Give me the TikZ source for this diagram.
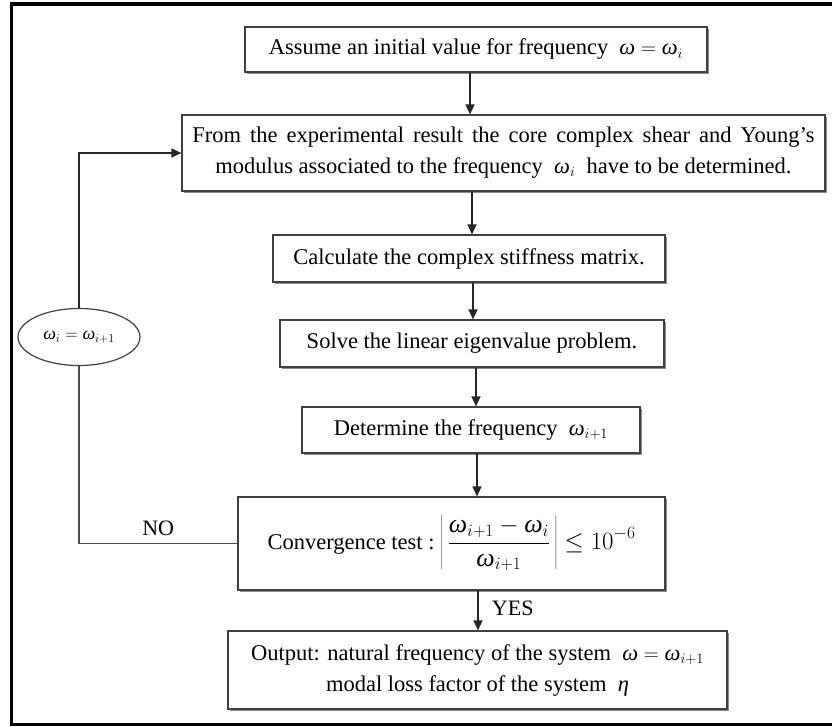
\documentclass[tikz,border=0pt]{standalone}
\usepackage{fontspec}
\setmainfont{Liberation Serif}
\usetikzlibrary{arrows.meta,shadows,shapes.geometric}
\newcommand\om{\mbox{\itshape ω}}
\newcommand\et{\mbox{\itshape η}}
\begin{document}
\begin{tikzpicture}[x=1pt,y=-1pt,
  box/.style={draw=black!75, line width=1.2pt, fill=white,
    drop shadow={shadow xshift=1.6pt, shadow yshift=-1.6pt, fill=black!45, opacity=1},
    font=\fontsize{22.5}{31}\selectfont, align=center, inner sep=0pt},
  arr/.style={-{Triangle[length=10pt,width=9pt]}, line width=1.3pt, draw=black!85},
  conn/.style={line width=1.3pt, draw=black!70},
  lbl/.style={font=\fontsize{22}{24}\selectfont}]
\useasboundingbox (0,0) rectangle (832,726);
% outer frame (its right side lies outside the picture)
\draw[line width=3.5pt] (845,3.8) -- (11.7,3.8) -- (11.7,724.5) -- (845,724.5);

\node[box, minimum width=462pt, minimum height=45pt] (b1) at (476,49.5)
  {Assume an initial value for frequency~~$\om=\om_i$};
\node[box, minimum width=643pt, minimum height=76pt] (b2) at (503.5,153)
  {\spaceskip=0.4em plus 0.1em From the experimental result the core complex shear and Young’s\\
   modulus associated to the frequency~~$\om_i$~~have to be determined.};
\node[box, minimum width=392pt, minimum height=47pt] (b3) at (469,258.5)
  {Calculate the complex stiffness matrix.};
\node[box, minimum width=384pt, minimum height=47pt] (b4) at (472,343.5)
  {Solve the linear eigenvalue problem.};
\node[box, minimum width=338pt, minimum height=46pt] (b5) at (471,430)
  {Determine the frequency~~$\om_{i+1}$};
\node[box, minimum width=427pt, minimum height=93pt] (b6) at (451.5,543.5)
  {Convergence test :~{\fontsize{26}{30}\selectfont$\displaystyle\left|\,\frac{\om_{i+1}-\om_i}{\om_{i+1}}\,\right|\le 10^{-6}$}};
\node[box, minimum width=499pt, minimum height=78pt] (b7) at (477.5,670)
  {Output: natural frequency of the system~~$\om=\om_{i+1}$\\
   modal loss factor of the system~~$\et$};

\node[draw=black!75, line width=1.2pt, ellipse, minimum width=122pt, minimum height=57pt,
  inner sep=0pt, font=\fontsize{18}{20}\selectfont] (loop) at (79,337) {$\om_i=\om_{i+1}$};

\coordinate (x1) at (470,0);
\coordinate (x2) at (472,0);
\coordinate (x3) at (473,0);
\coordinate (x4) at (476,0);
\coordinate (x5) at (477,0);
\coordinate (x6) at (478,0);
\draw[arr] (b1.south -| x1) -- (b2.north -| x1);
\draw[arr] (b2.south -| x2) -- (b3.north -| x2);
\draw[arr] (b3.south -| x3) -- (b4.north -| x3);
\draw[arr] (b4.south -| x4) -- (b5.north -| x4);
\draw[arr] (b5.south -| x5) -- (b6.north -| x5);
\draw[arr] (b6.south -| x6) -- (b7.north -| x6) node[pos=0.45, right=10pt, lbl] {YES};

\draw[conn] (b6.west) -- (b6.west -| loop.south) node[pos=0.5, above=4pt, lbl] {NO} -- (loop.south);
\draw[arr] (loop.north) |- (b2.west);
\end{tikzpicture}
\end{document}
